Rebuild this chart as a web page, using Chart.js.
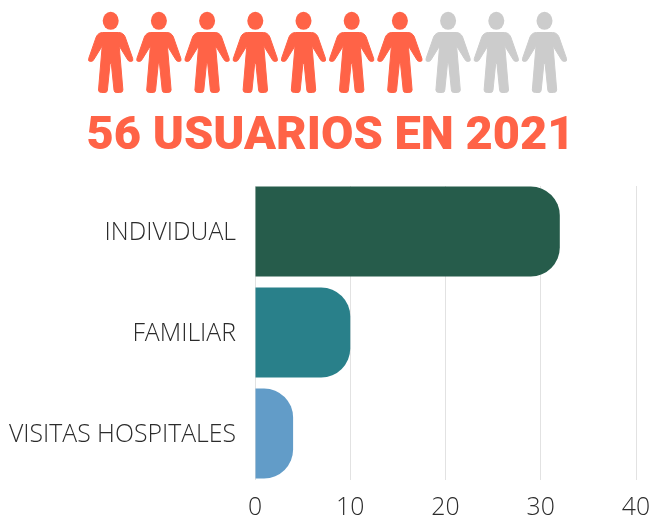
<!DOCTYPE html>
<html><head><meta charset="utf-8">
<style>html,body{margin:0;padding:0;background:#fff}#w{width:649px;height:516px}</style>
<script src="https://cdn.jsdelivr.net/npm/chart.js@4"></script>
</head><body><div id="w"><canvas id="c"></canvas></div>
<script>
const categories = ["INDIVIDUAL", "FAMILIAR", "VISITAS HOSPITALES"];
const usuarios = [32, 10, 4];
const barColors = ["#265C4B", "#29808A", "#629CC8"];
const titleText = "56 USUARIOS EN 2021";
const peopleTotal = 10;
const peopleFilled = 7;
const xTicks = [0, 10, 20, 30, 40];

const personBody = new Path2D("M-8 32.5 L8 32.5 Q12.5 32.5 14.5 37 L22 58.5 Q23 61.5 20 61.5 Q17.5 61.5 16.5 59 L8.5 46 L12.2 90 Q12.2 92.5 9 92.5 L5.5 92.5 Q3.5 92.5 3.3 90 L0.6 63.5 L-0.6 63.5 L-3.3 90 Q-3.5 92.5 -5.5 92.5 L-9 92.5 Q-12.2 92.5 -12.2 90 L-8.5 46 L-16.5 59 Q-17.5 61.5 -20 61.5 Q-23 61.5 -22 58.5 L-14.5 37 Q-12.5 32.5 -8 32.5 Z");
const people = {
  id: "people",
  beforeDraw(chart) {
    const ctx = chart.ctx;
    for (let i = 0; i < peopleTotal; i++) {
      ctx.save();
      ctx.translate(110.7 + i * 48.2, 0);
      ctx.fillStyle = i < peopleFilled ? "#FF6347" : "#CCCCCC";
      ctx.strokeStyle = ctx.fillStyle;
      ctx.lineWidth = 1; ctx.lineJoin = "round";
      ctx.beginPath(); ctx.ellipse(0, 20.8, 8, 9, 0, 0, Math.PI * 2); ctx.fill();
      ctx.fill(personBody); ctx.stroke(personBody);
      ctx.restore();
    }
  }
};
Chart.register(people);

// Rows are spaced wider than the grid lines are tall, as in the reference.
class RowScale extends Chart.CategoryScale {
  static id = "rowScale";
  static defaults = Chart.CategoryScale.defaults;
  configure() { super.configure(); this._startValue = -0.45; this._valueRange = 2.911; }
  _computeLabelArea() { return null; }
  _computeLabelItems(area) {
    const items = super._computeLabelItems(area);
    items.forEach(it => { it.options.translation[1] += 1.5; });
    return items;
  }
}
Chart.register(RowScale);

// The reference keeps the full corner radius on short bars too.
Chart.BarElement.prototype.draw = function (ctx) {
  const { x, y, base, height } = this.getProps(["x", "y", "base", "height"]);
  ctx.save();
  ctx.fillStyle = this.options.backgroundColor;
  ctx.beginPath();
  ctx.roundRect(base, y - height / 2, x - base, height, [0, 29, 29, 0]);
  ctx.fill();
  ctx.restore();
};

new Chart(document.getElementById("c"), {
  type: "bar",
  data: { labels: categories, datasets: [{ data: usuarios, backgroundColor: barColors, borderWidth: 0, barThickness: 90 }] },
  options: {
    indexAxis: "y", responsive: true, maintainAspectRatio: false, animation: false,
    layout: { padding: { right: 0, left: 12, top: 0, bottom: 0 } },
    plugins: {
      legend: { display: false }, tooltip: { enabled: false },
      title: { display: true, text: titleText, color: "#FF6347", align: "center",
        font: { family: "Roboto", size: 47, weight: "900" }, padding: { top: 109, bottom: 20.6 } }
    },
    scales: {
      x: { min: 0, max: 40, grid: { color: "#E2E2E2", lineWidth: 1, drawTicks: false }, border: { display: false },
        afterBuildTicks(a){ a.ticks = xTicks.map(v => ({ value: v })); },
        afterFit(a){ a.height = 36; a.paddingRight = 13; },
        ticks: { color: "#2B2B2B", padding: 13, maxRotation: 0, font: { family: "Open Sans", size: 24.8, weight: "300" } } },
      y: { type: "rowScale", grid: { display: false }, border: { display: false },
        afterFit(a){ a.width = 243; },
        ticks: { color: "#2B2B2B", padding: 11, font: { family: "Open Sans", size: 24.8, weight: "300" } } }
    }
  }
});
</script></body></html>
